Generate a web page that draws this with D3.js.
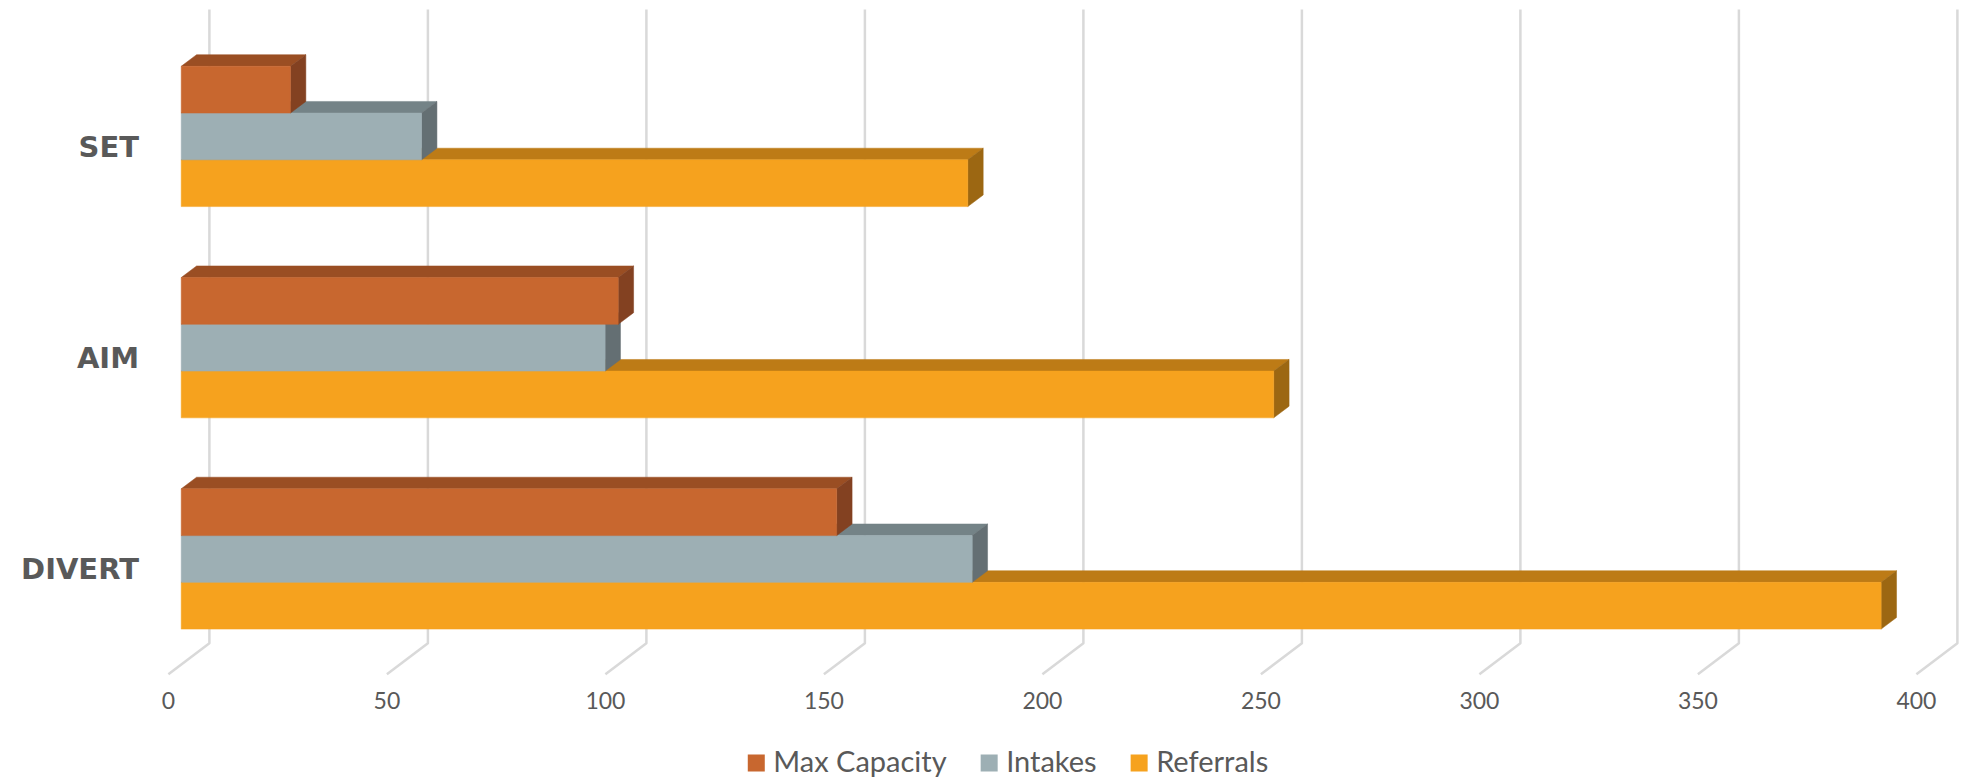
<!DOCTYPE html>
<html>
<head>
<meta charset="utf-8">
<script src="https://cdn.jsdelivr.net/npm/d3@7"></script>
<style>
  html, body { margin: 0; padding: 0; background: #ffffff; }
  svg { display: block; }
</style>
</head>
<body>
<svg id="chart" width="1964" height="782"></svg>
<script>
// ---- data ----
const categories = ["SET", "AIM", "DIVERT"];
const seriesNames = ["Max Capacity", "Intakes", "Referrals"];
const maxCapacity = [25, 100, 150];
const intakes = [55, 97, 181];
const referrals = [180, 250, 389];
const tickValues = [0, 50, 100, 150, 200, 250, 300, 350, 400];

const seriesValues = [maxCapacity, intakes, referrals];
const colors = {
  "Max Capacity": { front: "#C8672F", top: "#9A4E23", side: "#834121" },
  "Intakes":      { front: "#9DAFB4", top: "#748387", side: "#646F73" },
  "Referrals":    { front: "#F6A21E", top: "#BD7B16", side: "#9C6712" }
};

// ---- layout ----
const svg = d3.select("#chart");
const depthX = 41, depthY = 31;     // oblique depth of the floor
const d0 = 0.3125, d1 = 0.6875;     // bar depth span (fraction of floor depth)

const x = d3.scaleLinear().domain([0, 400]).range([168.4, 1916.4]);
const y = d3.scaleBand().domain(categories).range([40.5, 674.3])
  .paddingInner(0.336).paddingOuter(0.168);
const ys = d3.scaleBand().domain(seriesNames).range([0, y.bandwidth()]);

const P = (xv, yv, d) => [xv + d * depthX, yv - d * depthY];
const poly = pts => "M" + pts.map(p => p[0].toFixed(2) + "," + p[1].toFixed(2)).join("L") + "Z";

// ---- gridlines (back wall + floor diagonals) ----
const grid = svg.append("g");
const yTop = y.range()[0], yFloor = y.range()[1];
tickValues.forEach(t => {
  const a = P(x(t), yTop, 1), b = P(x(t), yFloor, 1), c = P(x(t), yFloor, 0);
  grid.append("path")
    .attr("d", `M${a[0]},${a[1]}L${b[0]},${b[1]}L${c[0]},${c[1]}`)
    .attr("fill", "none").attr("stroke", "#D9D9D9").attr("stroke-width", 2.5)
    .attr("stroke-linejoin", "round");
});

// ---- tick labels ----
svg.append("g").selectAll("text").data(tickValues).join("text")
  .attr("x", d => x(d)).attr("y", 709.3)
  .attr("text-anchor", "middle")
  .attr("font-family", "Lato, sans-serif").attr("font-size", 23)
  .attr("fill", "#595959")
  .text(d => d);

// ---- bars (bottom series drawn first so upper bars cover their top faces) ----
const barsG = svg.append("g");
categories.forEach((cat, ci) => {
  for (let si = seriesNames.length - 1; si >= 0; si--) {
    const s = seriesNames[si];
    const v = seriesValues[si][ci];
    const y0 = y(cat) + ys(s), y1 = y0 + ys.bandwidth();
    const x0 = x(0), x1 = x(v);
    const col = colors[s];
    const g = barsG.append("g");
    g.append("path").attr("d", poly([P(x0, y0, d0), P(x1, y0, d0), P(x1, y0, d1), P(x0, y0, d1)]))
      .attr("fill", col.top).attr("stroke", col.top).attr("stroke-width", 0.5);
    g.append("path").attr("d", poly([P(x1, y0, d0), P(x1, y0, d1), P(x1, y1, d1), P(x1, y1, d0)]))
      .attr("fill", col.side).attr("stroke", col.side).attr("stroke-width", 0.5);
    g.append("path").attr("d", poly([P(x0, y0, d0), P(x1, y0, d0), P(x1, y1, d0), P(x0, y1, d0)]))
      .attr("fill", col.front).attr("stroke", col.front).attr("stroke-width", 0.5);
  }
});

// ---- category labels ----
svg.append("g").selectAll("text").data(categories).join("text")
  .attr("x", 139)
  .attr("y", d => y(d) + y.bandwidth() / 2 + 10.5)
  .attr("text-anchor", "end")
  .attr("font-family", "'DejaVu Sans', sans-serif").attr("font-weight", "bold")
  .attr("font-size", 29)
  .attr("fill", "#595959")
  .text(d => d);

// ---- legend ----
const legend = svg.append("g");
const sq = 17, gapSq = 8.5, gapItem = 34;
const items = seriesNames.map(s => {
  const g = legend.append("g");
  g.append("rect").attr("width", sq).attr("height", sq).attr("y", 754.5)
    .attr("fill", colors[s].front);
  const t = g.append("text").attr("x", sq + gapSq).attr("y", 771.7)
    .attr("font-family", "Lato, sans-serif").attr("font-size", 29)
    .attr("fill", "#595959").text(s);
  return { g, w: sq + gapSq + t.node().getComputedTextLength() };
});
const total = d3.sum(items, d => d.w) + gapItem * (items.length - 1);
let lx = 1008 - total / 2;
items.forEach(it => { it.g.attr("transform", `translate(${lx},0)`); lx += it.w + gapItem; });
</script>
</body>
</html>
